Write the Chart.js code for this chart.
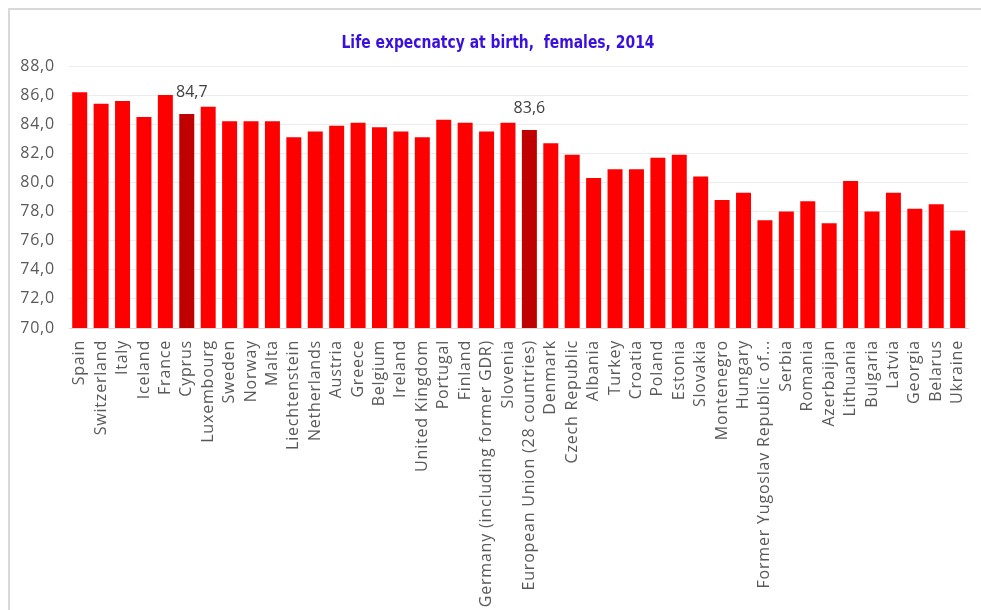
<!DOCTYPE html>
<html>
<head>
<meta charset="utf-8">
<script src="https://cdn.jsdelivr.net/npm/chart.js@4"></script>
<style>
    html, body { margin: 0; padding: 0; background: #fff; }
    #wrap { position: relative; width: 981px; height: 610px; }
</style>
</head>
<body>
<div id="wrap"><canvas id="chart-life"></canvas></div>
<script>
// Life expectancy at birth, females, 2014
const countries = [
    'Spain', 'Switzerland', 'Italy', 'Iceland', 'France', 'Cyprus', 'Luxembourg', 'Sweden',
    'Norway', 'Malta', 'Liechtenstein', 'Netherlands', 'Austria', 'Greece', 'Belgium', 'Ireland',
    'United Kingdom', 'Portugal', 'Finland', 'Germany (including former GDR)', 'Slovenia',
    'European Union (28 countries)', 'Denmark', 'Czech Republic', 'Albania', 'Turkey', 'Croatia',
    'Poland', 'Estonia', 'Slovakia', 'Montenegro', 'Hungary', 'Former Yugoslav Republic of...',
    'Serbia', 'Romania', 'Azerbaijan', 'Lithuania', 'Bulgaria', 'Latvia', 'Georgia', 'Belarus', 'Ukraine'
];
const lifeExpectancy = [
    86.2, 85.4, 85.6, 84.5, 86.0, 84.7, 85.2, 84.2,
    84.2, 84.2, 83.1, 83.5, 83.9, 84.1, 83.8, 83.5,
    83.1, 84.3, 84.1, 83.5, 84.1,
    83.6, 82.7, 81.9, 80.3, 80.9, 80.9,
    81.7, 81.9, 80.4, 78.8, 79.3, 77.4,
    78.0, 78.7, 77.2, 80.1, 78.0, 79.3, 78.2, 78.5, 76.7
];
// подсвеченные столбцы (Кипр и ЕС) с подписью значения
const highlighted = ['Cyprus', 'European Union (28 countries)'];
const yTicks = { min: 70, max: 88, step: 2 };

const titleText = 'Life expecnatcy at birth,  females, 2014';

function formatComma(v) {
    return Number(v).toFixed(1).replace('.', ',');
}

const framePlugin = {
    id: 'frame',
    beforeDraw(chart) {
        const ctx = chart.ctx;
        ctx.save();
        ctx.fillStyle = '#fff';
        ctx.fillRect(0, 0, chart.width, chart.height);
        ctx.fillStyle = '#d9d9d9';
        ctx.fillRect(8, 8, chart.width - 8, 2);
        ctx.fillRect(8, 8, 2, chart.height - 8);

        // заголовок: узкий жирный шрифт, сжимаем до ширины оригинала
        ctx.font = 'bold 17.5px "Liberation Sans Narrow", "DejaVu Sans Condensed", sans-serif';
        ctx.fillStyle = '#3a10e0';
        ctx.textAlign = 'center';
        ctx.textBaseline = 'middle';
        const w = ctx.measureText(titleText).width;
        const k = Math.min(1, 313 / w);
        ctx.translate(498, 43);
        ctx.scale(k, 1);
        ctx.fillText(titleText, 0, 0);
        ctx.restore();

        // подписи осей в Excel шире обычного
        ctx.letterSpacing = '0.8px';
    },
    beforeDatasetsDraw(chart) {
        chart.ctx.letterSpacing = '0px';
    }
};

const valueLabelPlugin = {
    id: 'valueLabels',
    afterDatasetsDraw(chart) {
        const ctx = chart.ctx;
        const meta = chart.getDatasetMeta(0);
        ctx.save();
        ctx.letterSpacing = '0px';
        ctx.font = '16px "Open Sans", sans-serif';
        ctx.fillStyle = '#404040';
        ctx.textAlign = 'center';
        ctx.textBaseline = 'middle';
        countries.forEach((c, i) => {
            if (!highlighted.includes(c)) return;
            const bar = meta.data[i];
            const dx = c === 'Cyprus' ? 5 : 0;
            ctx.fillText(formatComma(lifeExpectancy[i]), bar.x + dx, bar.y - 22);
        });
        ctx.restore();
    }
};

const barColors = countries.map(c => highlighted.includes(c) ? '#c00000' : '#ff0000');

document.addEventListener('DOMContentLoaded', function() {
    const ctx = document.getElementById('chart-life');
    new Chart(ctx, {
        type: 'bar',
        data: {
            labels: countries,
            datasets: [{
                data: lifeExpectancy,
                backgroundColor: barColors,
                borderWidth: 0,
                barPercentage: 0.7,
                categoryPercentage: 1.0
            }]
        },
        options: {
            responsive: true,
            maintainAspectRatio: false,
            animation: false,
            layout: { padding: { top: 66, right: 12, left: 0, bottom: 0 } },
            plugins: {
                legend: { display: false },
                tooltip: { enabled: false }
            },
            scales: {
                x: {
                    grid: { display: false },
                    border: { display: true, color: '#d9d9d9', width: 1 },
                    ticks: {
                        autoSkip: false,
                        minRotation: 90,
                        maxRotation: 90,
                        padding: 4,
                        color: '#595959',
                        font: { family: 'Open Sans', size: 16 }
                    },
                    afterFit(scale) { scale.height = 282; }
                },
                y: {
                    min: yTicks.min,
                    max: yTicks.max,
                    grid: { color: '#ececec', drawTicks: false },
                    border: { display: false },
                    ticks: {
                        stepSize: yTicks.step,
                        padding: 14,
                        color: '#595959',
                        font: { family: 'Open Sans', size: 16 },
                        callback: v => formatComma(v)
                    },
                    afterFit(scale) { scale.width = 69; }
                }
            }
        },
        plugins: [framePlugin, valueLabelPlugin]
    });
});
</script>
</body>
</html>
